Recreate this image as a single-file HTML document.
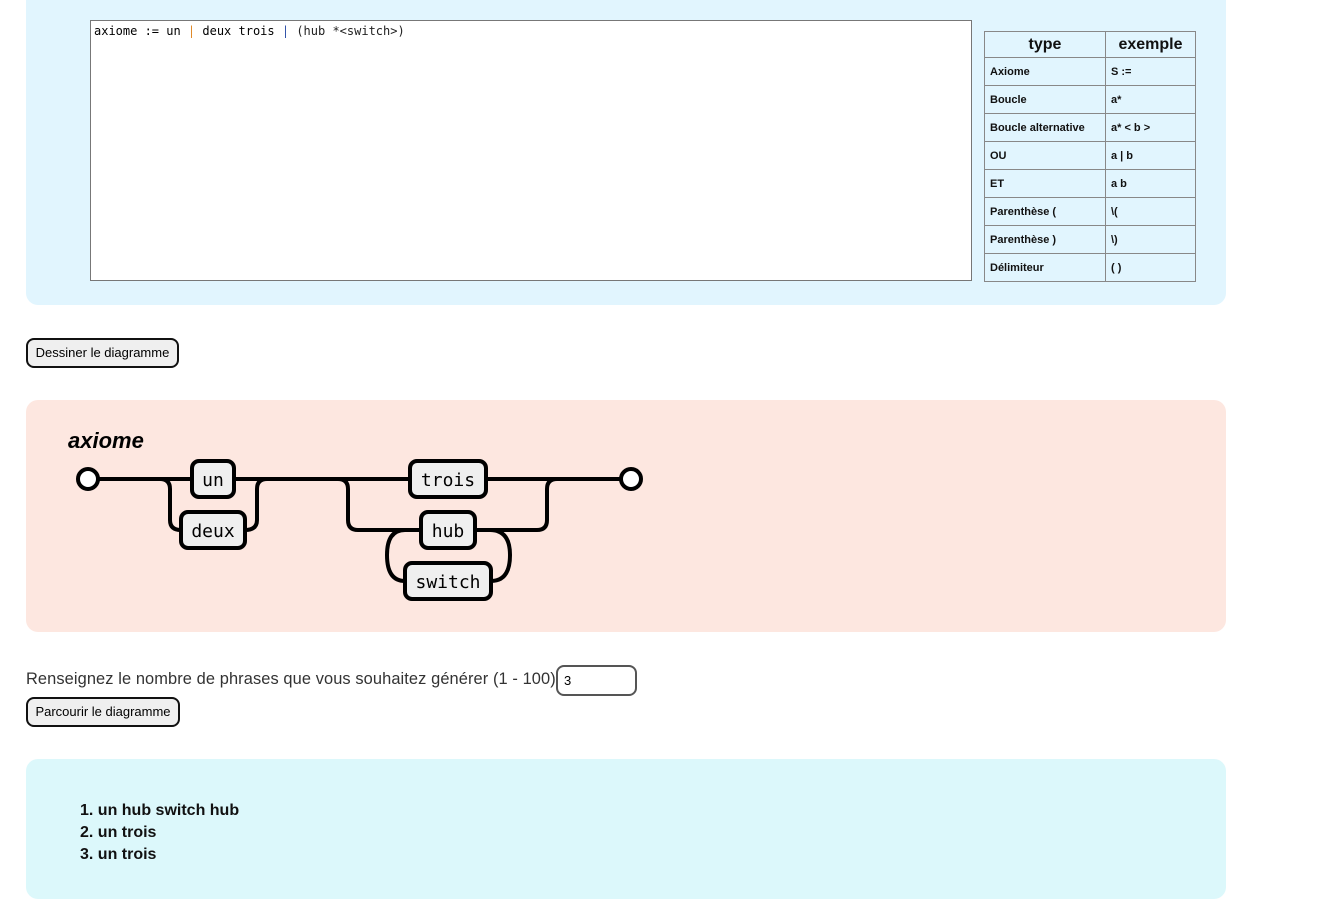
<!DOCTYPE html>
<html><head><meta charset="utf-8"><style>
body{margin:0;width:1344px;height:880px;background:#fff;position:relative;overflow:hidden;font-family:"Liberation Sans",sans-serif;}
.abs{position:absolute;}
.panel{position:absolute;left:26px;width:1200px;border-radius:12px;}
table{border-collapse:collapse;font-family:"Liberation Sans",sans-serif;table-layout:fixed;}
td,th{border:1px solid #888;padding:0 5px;font-size:11px;font-weight:bold;height:27px;text-align:left;color:#111;white-space:nowrap;overflow:hidden;}
th{font-size:16px;text-align:center;height:25px;font-weight:bold;}
.btn{position:absolute;left:26px;border:2px solid #111;border-radius:8px;background:#efefef;font-size:13px;line-height:26px;text-align:center;box-sizing:border-box;}
</style></head><body>
<div class="panel" style="top:-12px;height:317px;background:#e1f5fe;"></div>
<div class="abs" style="left:90px;top:20px;width:882px;height:261px;border:1px solid #777;background:#fff;font-family:'DejaVu Sans Mono','Liberation Mono',monospace;font-size:12px;line-height:20px;padding-left:3px;box-sizing:border-box;">axiome := un <span style="color:#e08a2a">|</span> deux trois <span style="color:#3355aa">|</span> <span style="color:#222">(hub *&lt;switch&gt;)</span></div>
<table class="abs" style="left:984px;top:31px;width:212px;">
<tr><th style="width:110px">type</th><th>exemple</th></tr>
<tr><td>Axiome</td><td>S :=</td></tr>
<tr><td>Boucle</td><td>a*</td></tr>
<tr><td>Boucle alternative</td><td>a* &lt; b &gt;</td></tr>
<tr><td>OU</td><td>a | b</td></tr>
<tr><td>ET</td><td>a b</td></tr>
<tr><td>Parenthèse (</td><td>\(</td></tr>
<tr><td>Parenthèse )</td><td>\)</td></tr>
<tr><td>Délimiteur</td><td>( )</td></tr>
</table>
<div class="btn" style="top:338px;width:153px;height:30px;">Dessiner le diagramme</div>
<div class="panel" style="top:400px;height:232px;background:#fde7e0;"></div>
<svg class="abs" style="left:0;top:0" width="1344" height="880">
<text x="68" y="448" font-family="Liberation Sans" font-weight="bold" font-style="italic" font-size="22">axiome</text>
<g fill="none" stroke="#000" stroke-width="4">
<path d="M98 479 H192 M234 479 H410 M486 479 H621"/>
<path d="M160 479 Q170 479 170 489 V520 Q170 530 181 530"/>
<path d="M245 530 Q257 530 257 520 V489 Q257 479 267 479"/>
<path d="M338 479 Q348 479 348 489 V520 Q348 530 358 530 H421"/>
<path d="M475 530 H537 Q547 530 547 520 V489 Q547 479 557 479"/>
<path d="M421 530 H405 Q387 530 387 555 Q387 581 405 581"/>
<path d="M475 530 H490 Q510 530 510 555 Q510 581 491 581"/>
</g>
<g fill="#fff" stroke="#000" stroke-width="4"><circle cx="88" cy="479" r="10"/><circle cx="631" cy="479" r="10"/></g>
<g fill="#efefef" stroke="#000" stroke-width="4">
<rect x="192" y="461" width="42" height="36" rx="7"/>
<rect x="181" y="512" width="64" height="36" rx="7"/>
<rect x="410" y="461" width="76" height="36" rx="7"/>
<rect x="421" y="512" width="54" height="36" rx="7"/>
<rect x="405" y="563" width="86" height="36" rx="7"/>
</g>
<g font-family="DejaVu Sans Mono" font-size="18" text-anchor="middle">
<text x="213" y="486">un</text><text x="213" y="537">deux</text><text x="448" y="486">trois</text><text x="448" y="537">hub</text><text x="448" y="588">switch</text>
</g>
</svg>
<div class="abs" style="left:26px;top:670px;font-family:'Liberation Sans',sans-serif;font-size:16.4px;letter-spacing:0.1px;color:#333;white-space:nowrap;">Renseignez le nombre de phrases que vous souhaitez générer (1 - 100)</div>
<div class="abs" style="left:556px;top:665px;width:81px;height:31px;border:2px solid #555;border-radius:8px;box-sizing:border-box;font-size:13px;line-height:27px;padding-left:6px;">3</div>
<div class="btn" style="top:697px;width:154px;height:30px;">Parcourir le diagramme</div>
<div class="panel" style="top:759px;height:140px;background:#dcf8fb;"></div>
<div class="abs" style="left:80px;top:800px;font-family:'Liberation Sans',sans-serif;font-weight:bold;font-size:16px;line-height:22px;color:#111;">1. un hub switch hub<br>2. un trois<br>3. un trois</div>
</body></html>
